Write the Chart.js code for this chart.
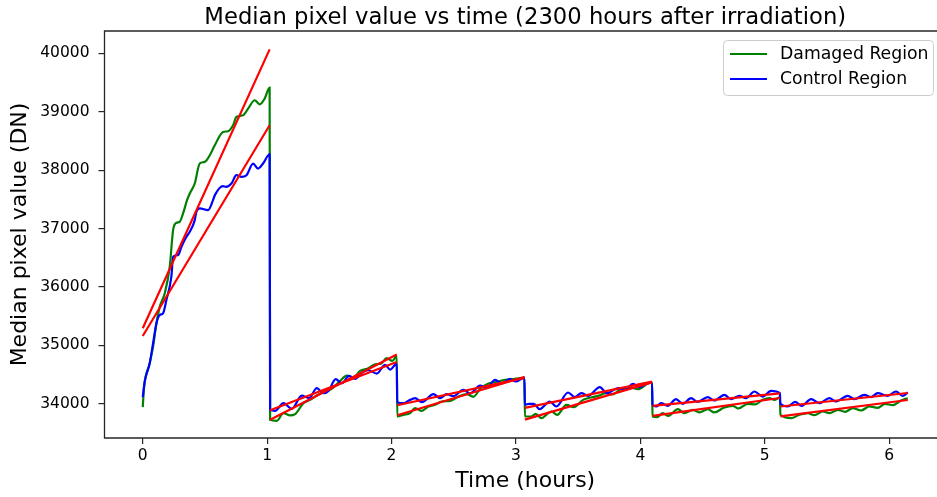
<!DOCTYPE html>
<html>
<head>
<meta charset="utf-8">
<title>Median pixel value vs time</title>
<script src="https://cdn.jsdelivr.net/npm/chart.js@4.4.1/dist/chart.umd.min.js"></script>
<style>
  html, body { margin: 0; padding: 0; background: #fff; overflow: hidden; }
  canvas { display: block; }
</style>
</head>
<body>
<canvas id="chart" width="937" height="497" style="width:937px;height:497px"></canvas>
<script>
// Median pixel value (DN) of each region, one reading per frame time (hours).
// Six exposure runs; the value resets at the start of each run.
const damagedTime = [
  0.000, 0.011, 0.056, 0.083, 0.110, 0.137, 0.177, 0.217, 0.244, 0.271, 0.297, 0.324, 0.356, 0.378, 0.418,
  0.458, 0.498, 0.539, 0.579, 0.646, 0.686, 0.726, 0.753, 0.807, 0.847, 0.900, 0.940, 0.980, 1.020,
  1.024, 1.077, 1.131, 1.184, 1.225, 1.292, 1.345, 1.399, 1.466, 1.519, 1.586, 1.640, 1.694, 1.747, 1.814,
  1.868, 1.916, 1.961, 2.007, 2.042,
  2.046, 2.095, 2.149, 2.189, 2.243, 2.296, 2.350, 2.404, 2.471, 2.538, 2.605, 2.658, 2.712, 2.779, 2.832,
  2.913, 2.993, 3.068,
  3.072, 3.124, 3.159, 3.205, 3.285, 3.331, 3.406, 3.465, 3.540, 3.593, 3.660, 3.727, 3.776, 3.834, 3.915,
  3.982, 4.062, 4.094,
  4.098, 4.135, 4.180, 4.226, 4.301, 4.354, 4.421, 4.475, 4.542, 4.595, 4.670, 4.743, 4.788, 4.863, 4.922,
  4.984, 5.038, 5.078, 5.122,
  5.126, 5.212, 5.279, 5.346, 5.399, 5.466, 5.520, 5.587, 5.646, 5.707, 5.774, 5.841, 5.908, 5.967, 6.029,
  6.096, 6.150
];
const damagedDN = [
  33944, 34296, 34695, 34980, 35379, 35664, 35892, 36347, 36974, 37100, 37117, 37259, 37487, 37602, 37772,
  38114, 38142, 38256, 38427, 38655, 38667, 38769, 38911, 38940, 39054, 39197, 39128, 39225, 39413,
  33726, 33709, 33840, 33801, 33823, 34011, 34068, 34142, 34211, 34256, 34393, 34484, 34450, 34564, 34610,
  34678, 34689, 34781, 34735, 34821,
  33783, 33812, 33840, 33926, 33880, 33954, 33983, 34040, 34051, 34125, 34165, 34120, 34256, 34348, 34370,
  34410, 34427, 34450,
  33783, 33783, 33829, 33755, 33869, 33812, 33983, 33943, 34068, 34103, 34137, 34182, 34160, 34239, 34285,
  34251, 34353, 34365,
  33783, 33772, 33840, 33795, 33909, 33840, 33897, 33852, 33909, 33852, 33932, 33966, 33920, 34000, 33989,
  34068, 34097, 34068, 34114,
  33812, 33755, 33812, 33840, 33806, 33869, 33840, 33897, 33863, 33926, 33886, 33954, 33932, 34000, 33977,
  34057, 34097
];

const controlTime = [
  0.000, 0.016, 0.056, 0.083, 0.110, 0.137, 0.163, 0.190, 0.230, 0.244, 0.284, 0.311, 0.351, 0.378, 0.418,
  0.431, 0.458, 0.525, 0.565, 0.580, 0.645, 0.670, 0.713, 0.753, 0.793, 0.834, 0.887, 0.927, 0.967, 1.020,
  1.024, 1.064, 1.131, 1.198, 1.278, 1.337, 1.399, 1.452, 1.493, 1.551, 1.600, 1.659, 1.707, 1.766, 1.814,
  1.881, 1.948, 1.988, 2.042,
  2.046, 2.095, 2.136, 2.189, 2.243, 2.337, 2.390, 2.444, 2.497, 2.578, 2.631, 2.712, 2.765, 2.832, 2.886,
  2.953, 2.998, 3.068,
  3.072, 3.106, 3.143, 3.191, 3.272, 3.325, 3.419, 3.473, 3.526, 3.580, 3.674, 3.733, 3.821, 3.875, 3.942,
  3.990, 4.045, 4.094,
  4.098, 4.127, 4.167, 4.220, 4.287, 4.341, 4.408, 4.461, 4.542, 4.595, 4.676, 4.729, 4.796, 4.850, 4.917,
  4.984, 5.051, 5.122,
  5.126, 5.185, 5.244, 5.297, 5.373, 5.440, 5.520, 5.573, 5.667, 5.721, 5.801, 5.855, 5.908, 5.989, 6.056,
  6.109, 6.150
];
const controlDN = [
  34114, 34382, 34695, 35037, 35379, 35521, 35550, 35778, 36176, 36518, 36547, 36689, 36860, 36946, 37145,
  37287, 37345, 37316, 37487, 37573, 37726, 37715, 37772, 37915, 37886, 37915, 38114, 38028, 38114, 38273,
  33897, 33880, 34011, 33915, 34142, 34097, 34268, 34182, 34222, 34422, 34353, 34479, 34427, 34541, 34575,
  34518, 34667, 34587, 34689,
  34028, 34011, 34051, 34097, 34028, 34165, 34097, 34165, 34131, 34239, 34177, 34313, 34268, 34410, 34348,
  34427, 34382, 34450,
  33983, 34000, 34000, 33909, 34040, 33954, 34194, 34114, 34182, 34137, 34285, 34182, 34268, 34239, 34342,
  34285, 34340, 34365,
  33983, 33954, 34011, 33966, 34080, 34000, 34097, 34034, 34114, 34057, 34154, 34080, 34137, 34097, 34211,
  34125, 34222, 34182,
  34000, 33954, 34034, 33966, 34080, 34011, 34097, 34040, 34137, 34080, 34154, 34114, 34182, 34137, 34211,
  34137, 34194
];

// Straight-line fit of each run: start/end time and fitted value at both ends.
const fitStartTime = [0.000, 1.024, 2.046, 3.072, 4.098, 5.126];
const fitEndTime   = [1.020, 2.042, 3.068, 4.094, 5.122, 6.150];
const damagedFitStart = [35294, 33726, 33805, 33730, 33795, 33785];
const damagedFitEnd   = [40068, 34845, 34460, 34368, 34100, 34065];
const controlFitStart = [35162, 33890, 33975, 33930, 33966, 33954];
const controlFitEnd   = [38769, 34715, 34445, 34380, 34180, 34185];

const xTicks = [0, 1, 2, 3, 4, 5, 6];
const yTicks = [34000, 35000, 36000, 37000, 38000, 39000, 40000];

const FONT = '"DejaVu Sans", "Liberation Sans", sans-serif';

// Full time span of the axes box; its right end lies just past the visible edge.
const AXIS_T_MIN = -0.3075;
const AXIS_T_MAX = 6.4575;

function toPoints(times, values) {
  const n = Math.min(times.length, values.length);
  const pts = [];
  for (let i = 0; i < n; i++) pts.push({ x: times[i], y: values[i] });
  return pts;
}

function fitPoints(starts, ends) {
  const pts = [];
  for (let i = 0; i < fitStartTime.length; i++) {
    pts.push({ x: fitStartTime[i], y: starts[i] });
    pts.push({ x: fitEndTime[i], y: ends[i] });
    if (i < fitStartTime.length - 1) pts.push({ x: (fitEndTime[i] + fitStartTime[i + 1]) / 2, y: null });
  }
  return pts;
}

// Axes spines, title, x-axis label and the legend box.
const decorations = {
  id: 'decorations',
  afterDatasetsDraw(chart) {
    const { ctx, chartArea: a } = chart;
    ctx.save();
    ctx.strokeStyle = '#262626';
    ctx.lineWidth = 1.3;
    ctx.beginPath();
    ctx.moveTo(chart.width + 2, a.top);
    ctx.lineTo(a.left, a.top);
    ctx.lineTo(a.left, a.bottom);
    ctx.lineTo(chart.width + 2, a.bottom);
    ctx.stroke();

    // legend
    const lx = 723.5, ly = 40.5, lw = 210, lh = 55, r = 4;
    ctx.beginPath();
    ctx.moveTo(lx + r, ly);
    ctx.lineTo(lx + lw - r, ly);
    ctx.arcTo(lx + lw, ly, lx + lw, ly + r, r);
    ctx.lineTo(lx + lw, ly + lh - r);
    ctx.arcTo(lx + lw, ly + lh, lx + lw - r, ly + lh, r);
    ctx.lineTo(lx + r, ly + lh);
    ctx.arcTo(lx, ly + lh, lx, ly + lh - r, r);
    ctx.lineTo(lx, ly + r);
    ctx.arcTo(lx, ly, lx + r, ly, r);
    ctx.closePath();
    ctx.fillStyle = 'rgba(255,255,255,0.8)';
    ctx.fill();
    ctx.strokeStyle = '#cccccc';
    ctx.lineWidth = 1;
    ctx.stroke();

    const entries = [chart.data.datasets[0], chart.data.datasets[1]];
    const rows = [54, 79];
    ctx.font = '17.3px ' + FONT;
    ctx.textBaseline = 'middle';
    ctx.textAlign = 'left';
    entries.forEach((ds, i) => {
      ctx.beginPath();
      ctx.moveTo(730, rows[i]);
      ctx.lineTo(767, rows[i]);
      ctx.strokeStyle = ds.borderColor;
      ctx.lineWidth = 2.2;
      ctx.stroke();
      ctx.fillStyle = '#000';
      ctx.fillText(ds.label, 780, rows[i] + 1);
    });

    // title and x-axis label, centred over the full axes box
    const xs = chart.scales.x;
    const centre = (xs.getPixelForValue(AXIS_T_MIN) + xs.getPixelForValue(AXIS_T_MAX)) / 2;
    ctx.fillStyle = '#000';
    ctx.textAlign = 'center';
    ctx.font = '22.7px ' + FONT;
    ctx.textBaseline = 'alphabetic';
    ctx.fillText('Median pixel value vs time (2300 hours after irradiation)', centre, 23.5);
    ctx.font = '22px ' + FONT;
    ctx.textBaseline = 'middle';
    ctx.fillText('Time (hours)', centre, 481);
    ctx.restore();
  }
};

new Chart(document.getElementById('chart'), {
  type: 'line',
  data: {
    datasets: [
      {
        label: 'Damaged Region',
        data: toPoints(damagedTime, damagedDN),
        borderColor: '#008000',
        borderWidth: 2.2,
        pointRadius: 0,
        cubicInterpolationMode: 'monotone',
        order: 3
      },
      {
        label: 'Control Region',
        data: toPoints(controlTime, controlDN),
        borderColor: '#0000ff',
        borderWidth: 2.2,
        pointRadius: 0,
        cubicInterpolationMode: 'monotone',
        order: 2
      },
      {
        label: 'Damaged fit',
        data: fitPoints(damagedFitStart, damagedFitEnd),
        borderColor: '#ff0000',
        borderWidth: 2.2,
        pointRadius: 0,
        tension: 0,
        spanGaps: false,
        order: 1
      },
      {
        label: 'Control fit',
        data: fitPoints(controlFitStart, controlFitEnd),
        borderColor: '#ff0000',
        borderWidth: 2.2,
        pointRadius: 0,
        tension: 0,
        spanGaps: false,
        order: 0
      }
    ]
  },
  options: {
    responsive: false,
    animation: false,
    devicePixelRatio: 1,
    layout: { padding: { top: 31, left: 0, right: 0, bottom: 0 } },
    plugins: {
      legend: { display: false },
      title: { display: false },
      tooltip: { enabled: false }
    },
    scales: {
      x: {
        type: 'linear',
        min: AXIS_T_MIN,
        max: 6.385,
        afterFit(scale) { scale.height = 59; },
        afterBuildTicks(scale) { scale.ticks = xTicks.map(v => ({ value: v })); },
        border: { display: false },
        grid: { drawOnChartArea: false, drawTicks: true, tickLength: 6, color: '#262626', lineWidth: 1.2 },
        ticks: {
          color: '#000',
          font: { family: FONT, size: 15.5 },
          padding: 3,
          maxRotation: 0,
          autoSkip: false,
          callback: v => String(v)
        },
        title: { display: false }
      },
      y: {
        type: 'linear',
        min: 33415,
        max: 40383,
        afterFit(scale) { scale.width = 104.5; },
        afterBuildTicks(scale) { scale.ticks = yTicks.map(v => ({ value: v })); },
        border: { display: false },
        grid: { drawOnChartArea: false, drawTicks: true, tickLength: 6, color: '#262626', lineWidth: 1.2 },
        ticks: {
          color: '#000',
          font: { family: FONT, size: 15.5 },
          padding: 9,
          autoSkip: false,
          callback: v => String(v)
        },
        title: {
          display: true,
          text: 'Median pixel value (DN)',
          color: '#000',
          font: { family: FONT, size: 22 },
          padding: { top: 7, bottom: 0 }
        }
      }
    }
  },
  plugins: [decorations]
});
</script>
</body>
</html>
